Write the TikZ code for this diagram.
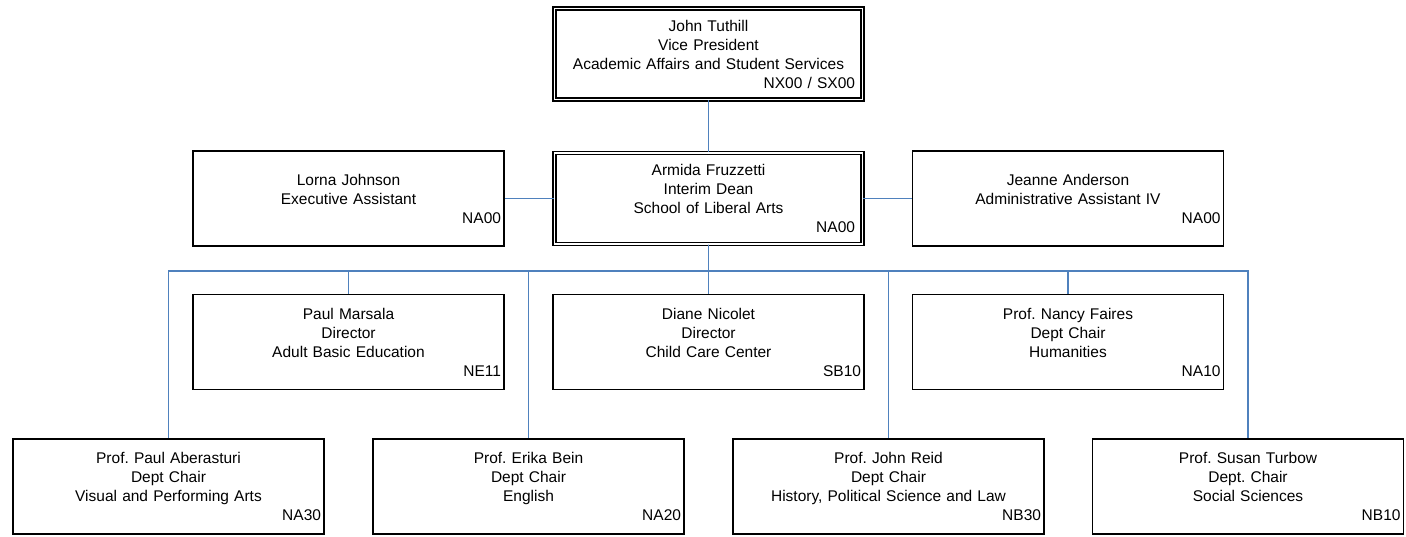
\documentclass[tikz,border=0pt]{standalone}
\usepackage{fontspec}
\setmainfont{Liberation Sans}
\frenchspacing
\definecolor{linkblue}{RGB}{79,129,189}
\begin{document}
\begin{tikzpicture}[x=1pt,y=-1pt,
  box/.style={draw=black, line width=1.5pt, fill=white, minimum width=311pt, minimum height=95pt,
    inner sep=0pt, text width=305pt, align=center, font=\fontsize{15.5}{19}\selectfont},
  dbox/.style={box, line width=1.4pt, double=white, double distance=1.4pt, minimum width=308pt,
    minimum height=91pt, text width=293pt},
  link/.style={draw=linkblue, line width=1.5pt}]
\useasboundingbox (0,0) rectangle (1406,536);
% boxes
\node[dbox] (vp) at (708.5,54) {John Tuthill\\Vice President\\Academic Affairs and Student Services\\\hspace*{\fill}NX00 / SX00};
\node[dbox] (dean) at (708.5,198.5) {Armida Fruzzetti\\Interim Dean\\School of Liberal Arts\\\hspace*{\fill}NA00};
\node[box] (lorna) at (348.5,198.5) {Lorna Johnson\\Executive Assistant\\\hspace*{\fill}NA00};
\node[box] (jeanne) at (1068,198.5) {Jeanne Anderson\\Administrative Assistant IV\\\hspace*{\fill}NA00};
\node[box] (marsala) at (348.5,342) {Paul Marsala\\Director\\Adult Basic Education\\\hspace*{\fill}NE11};
\node[box] (nicolet) at (708.5,342) {Diane Nicolet\\Director\\Child Care Center\\\hspace*{\fill}SB10};
\node[box] (faires) at (1068,342) {Prof. Nancy Faires\\Dept Chair\\Humanities\\\hspace*{\fill}NA10};
\node[box] (aber) at (168.5,486.5) {Prof. Paul Aberasturi\\Dept Chair\\Visual and Performing Arts\\\hspace*{\fill}NA30};
\node[box] (bein) at (528.5,486.5) {Prof. Erika Bein\\Dept Chair\\English\\\hspace*{\fill}NA20};
\node[box] (reid) at (888.5,486.5) {Prof. John Reid\\Dept Chair\\History, Political Science and Law\\\hspace*{\fill}NB30};
\node[box] (turbow) at (1248,486.5) {Prof. Susan Turbow\\Dept. Chair\\Social Sciences\\\hspace*{\fill}NB10};
% connectors
\coordinate (bus) at (0,271);
\draw[link] (vp.south) -- (dean.north);
\draw[link] (lorna.east) -- (dean.west);
\draw[link] (dean.east) -- (jeanne.west);
\foreach \c in {marsala,nicolet,faires,aber,bein,reid,turbow}
  \draw[link] (dean.south) -- (dean.south |- bus) -| (\c.north);
\end{tikzpicture}
\end{document}
